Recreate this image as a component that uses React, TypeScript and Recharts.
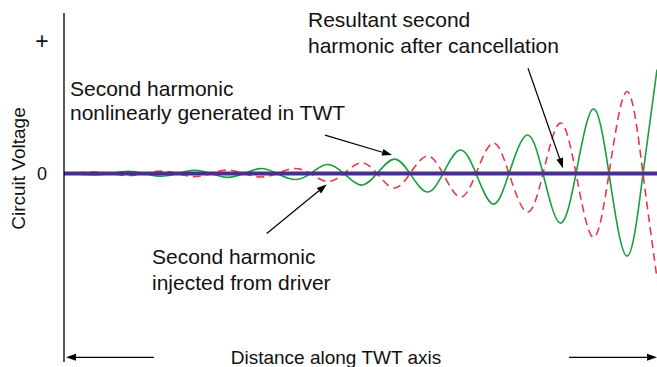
import { LineChart, Line, XAxis, YAxis, ReferenceLine } from "recharts";

// distance along the tube (arbitrary units, 0 = input end)
const distance = [
  0, 30, 47, 64, 80, 97, 113.5, 130, 147, 163, 180, 197, 213, 230, 246.5, 263, 280, 297,
  313, 330, 346, 363, 379, 396, 412, 429, 445, 463, 479, 496, 512, 529, 545, 563, 579, 593,
];

// second harmonic generated in the TWT (solid green)
const nonlinear = [
  0, -1.1, 0, 1.7, 0, -2.0, 0, 2.5, 0, -2.9, 0, 3.8, 0, -4.5, 0, 6.8, 0, -8.7,
  0, 10.9, 0, -13.9, 0, 17.7, 0, -23.0, 0, 29.0, 0, -37.3, 0, 48.6, 0, -62.2, 0, 78.4,
];

// second harmonic injected from the driver (dashed red)
const injected = [
  0, 1.1, 0, -1.5, 0, 1.9, 0, -2.3, 0, 2.7, 0, -2.6, 0, 3.8, 0, -5.9, 0, 8.1,
  0, -10.9, 0, 13.2, 0, -17.7, 0, 23.0, 0, -29.0, 0, 38.0, 0, -47.9, 0, 61.8, 0, -78.8,
];

// resultant after cancellation
const resultantDistance = [0, 593];
const resultantValue = [0, 0];

const voltTicks = [0, 100];
const voltLabels: Record<number, string> = { 0: "0", 100: "+" };

const data = distance.map((d, i) => ({ d, nonlinear: nonlinear[i], injected: injected[i] }));
const resultant = resultantDistance.map((d, i) => ({ d, resultant: resultantValue[i] }));

const FONT = "'Liberation Sans', Arial, Helvetica, sans-serif";

const VoltTick = ({ y, payload }: any) => (
  <text
    x={42}
    y={y}
    textAnchor="middle"
    dominantBaseline="central"
    fontSize={payload.value === 0 ? 18 : 23}
    fontFamily={FONT}
    fill="#111"
  >
    {voltLabels[payload.value]}
  </text>
);

const Arrow = ({ x1, y1, x2, y2 }: any) => {
  const a = Math.atan2(y2 - y1, x2 - x1);
  const len = 10;
  const hw = 3.5;
  const bx = x2 - len * Math.cos(a);
  const by = y2 - len * Math.sin(a);
  const pts = `${x2},${y2} ${bx - hw * Math.sin(a)},${by + hw * Math.cos(a)} ${bx + hw * Math.sin(a)},${by - hw * Math.cos(a)}`;
  return (
    <g>
      <line x1={x1} y1={y1} x2={bx} y2={by} stroke="#000" strokeWidth={1.2} />
      <polygon points={pts} fill="#000" />
    </g>
  );
};

// annotation arrows, in chart coordinates [from, to]
const arrows = [
  [{ x: 261, y: 29 }, { x: 328, y: 13.9 }],
  [{ x: 464, y: 79.4 }, { x: 499, y: 4.1 }],
  [{ x: 202.7, y: -45.1 }, { x: 262.7, y: -8.2 }],
  [{ x: 90, y: -138.5 }, { x: 2, y: -138.5 }],
  [{ x: 505, y: -138.5 }, { x: 593, y: -138.5 }],
];

export default function App() {
  return (
    <div style={{ position: "fixed", left: 0, top: 0, width: 657, height: 367, background: "#fff" }}>
      <LineChart width={657} height={367} data={data} margin={{ top: 13, right: 0, bottom: 5, left: 0 }}>
        <XAxis type="number" dataKey="d" domain={[0, 593]} allowDataOverflow hide />
        <YAxis
          type="number"
          domain={[-142, 121]}
          allowDataOverflow
          ticks={voltTicks}
          width={64}
          axisLine={{ stroke: "#000", strokeWidth: 1.3 }}
          tickLine={false}
          tick={<VoltTick />}
        />
        <Line type="natural" dataKey="nonlinear" stroke="#17a03f" strokeWidth={1.6} dot={false} isAnimationActive={false} />
        <Line
          type="natural"
          dataKey="injected"
          stroke="#e83a46"
          strokeWidth={1.6}
          strokeDasharray="8 5"
          dot={false}
          isAnimationActive={false}
        />
        <Line
          data={resultant}
          type="linear"
          dataKey="resultant"
          stroke="#4a2e8e"
          strokeWidth={4}
          dot={false}
          isAnimationActive={false}
        />
        {arrows.map((seg, i) => (
          <ReferenceLine key={i} segment={seg} shape={<Arrow />} />
        ))}
      </LineChart>
      <svg width={657} height={367} style={{ position: "absolute", left: 0, top: 0, pointerEvents: "none" }}>
        <g fontFamily={FONT} fontSize={21} fill="#111">
          <text x={308} y={27}>Resultant second</text>
          <text x={308} y={53}>harmonic after cancellation</text>
          <text x={70} y={96}>Second harmonic</text>
          <text x={70} y={120}>nonlinearly generated in TWT</text>
          <text x={152} y={264}>Second harmonic</text>
          <text x={152} y={290}>injected from driver</text>
        </g>
        <text x={336} y={364} textAnchor="middle" fontFamily={FONT} fontSize={19} fill="#111">
          Distance along TWT axis
        </text>
        <text
          x={25}
          y={168.5}
          textAnchor="middle"
          fontFamily={FONT}
          fontSize={19}
          fill="#111"
          transform="rotate(-90 25 168.5)"
        >
          Circuit Voltage
        </text>
      </svg>
    </div>
  );
}
